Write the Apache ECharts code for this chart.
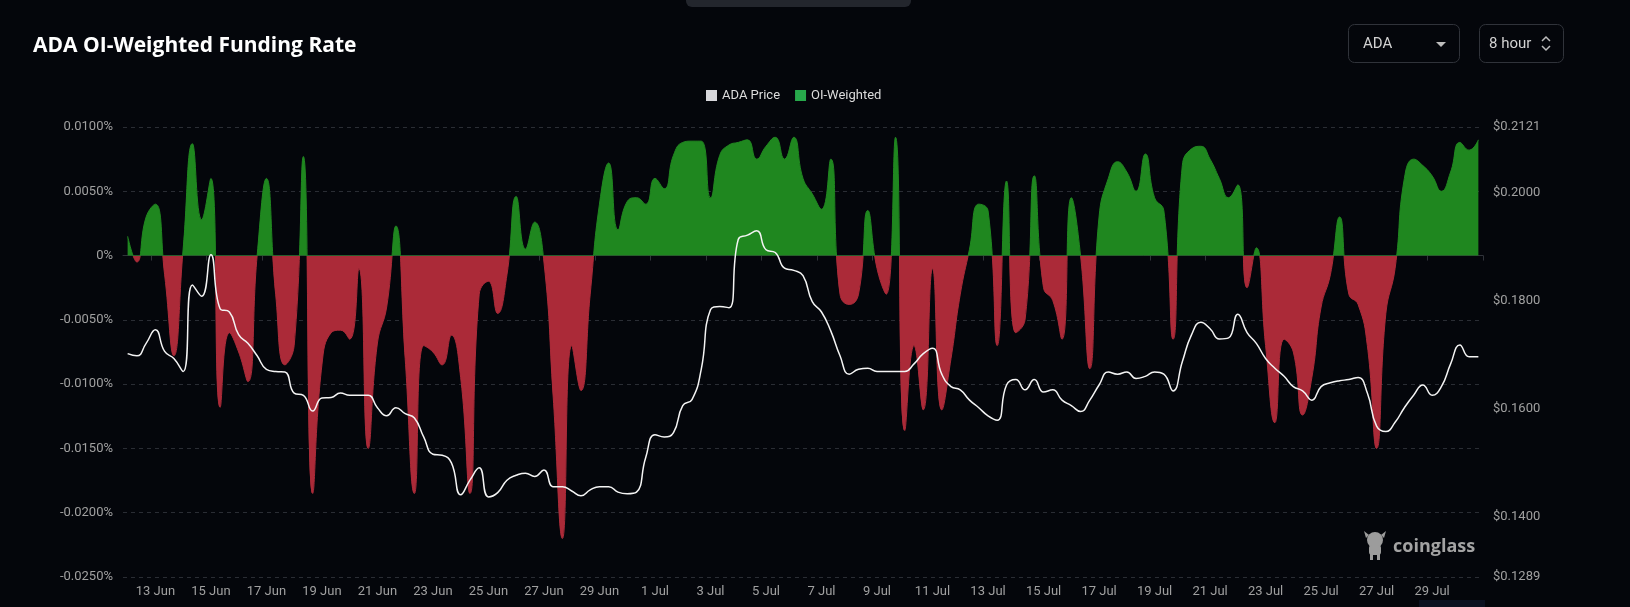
<!DOCTYPE html>
<html><head><meta charset="utf-8">
<script src="https://cdn.jsdelivr.net/npm/echarts@6/dist/echarts.min.js"></script>
<style>html,body{margin:0;padding:0;background:#04060b;}#c{width:1630px;height:607px;}</style>
</head><body><div id="c"></div>
<script>
const days = ['12 Jun','13 Jun','14 Jun','15 Jun','16 Jun','17 Jun','18 Jun','19 Jun','20 Jun','21 Jun','22 Jun','23 Jun','24 Jun','25 Jun','26 Jun','27 Jun','28 Jun','29 Jun','30 Jun',
  '1 Jul','2 Jul','3 Jul','4 Jul','5 Jul','6 Jul','7 Jul','8 Jul','9 Jul','10 Jul','11 Jul','12 Jul','13 Jul','14 Jul','15 Jul','16 Jul','17 Jul','18 Jul','19 Jul','20 Jul',
  '21 Jul','22 Jul','23 Jul','24 Jul','25 Jul','26 Jul','27 Jul','28 Jul','29 Jul','30 Jul'];
const hours = ['00:00','08:00','16:00'];
const categories = days.flatMap(d => hours.map(h => d + ' ' + h));

// OI-weighted funding rate, in percent
const fundingRate = [
 0.0015,-0.0005,0.0030,0.0040,-0.0015,-0.0078,0.0005,0.0087,0.0028,0.0060,
 -0.0118,-0.0060,-0.0075,-0.0098,0.0000,0.0060,-0.0030,-0.0085,-0.0070,0.0077,
 -0.0185,-0.0085,-0.0060,-0.0058,-0.0065,-0.0010,-0.0150,-0.0068,-0.0040,0.0023,
 -0.0080,-0.0185,-0.0070,-0.0075,-0.0085,-0.0062,-0.0095,-0.0185,-0.0030,-0.0020,
 -0.0045,-0.0015,0.0046,0.0005,0.0026,-0.0005,-0.0110,-0.0220,-0.0070,-0.0105,
 -0.0030,0.0040,0.0072,0.0020,0.0042,0.0045,0.0040,0.0060,0.0052,0.0078,
 0.0088,0.0089,0.0089,0.0045,0.0078,0.0086,0.0088,0.0090,0.0075,0.0085,
 0.0092,0.0075,0.0092,0.0060,0.0048,0.0036,0.0075,-0.0030,-0.0038,-0.0030,
 0.0035,-0.0010,-0.0030,0.0092,-0.0136,-0.0070,-0.0120,-0.0010,-0.0120,-0.0080,
 -0.0030,0.0005,0.0040,0.0035,-0.0070,0.0058,-0.0060,-0.0050,0.0062,-0.0025,
 -0.0035,-0.0065,0.0045,0.0000,-0.0088,0.0030,0.0060,0.0073,0.0065,0.0050,
 0.0079,0.0045,0.0035,-0.0065,0.0070,0.0083,0.0085,0.0075,0.0060,0.0045,
 0.0055,-0.0025,0.0006,-0.0070,-0.0130,-0.0065,-0.0075,-0.0124,-0.0095,-0.0040,
 -0.0015,0.0030,-0.0030,-0.0038,-0.0070,-0.0150,-0.0045,-0.0010,0.0060,0.0075,
 0.0070,0.0062,0.0050,0.0065,0.0088,0.0082,0.0090
];

// ADA price, USD
const adaPrice = [
 0.1702,0.1698,0.1721,0.1746,0.1706,0.1693,0.1669,0.1829,0.1808,0.1885,
 0.1785,0.1779,0.1737,0.1721,0.1698,0.1673,0.1669,0.1668,0.1629,0.1625,
 0.1596,0.1620,0.1621,0.1629,0.1625,0.1625,0.1625,0.1602,0.1587,0.1602,
 0.1591,0.1583,0.1548,0.1516,0.1514,0.1500,0.1441,0.1468,0.1491,0.1437,
 0.1445,0.1468,0.1477,0.1481,0.1475,0.1487,0.1456,0.1456,0.1448,0.1439,
 0.1450,0.1456,0.1456,0.1446,0.1443,0.1446,0.1510,0.1552,0.1548,0.1556,
 0.1606,0.1617,0.1673,0.1783,0.1789,0.1787,0.1913,0.1921,0.1929,0.1894,
 0.1889,0.1860,0.1856,0.1846,0.1798,0.1779,0.1744,0.1698,0.1664,0.1673,
 0.1675,0.1669,0.1669,0.1669,0.1669,0.1683,0.1702,0.1712,0.1664,0.1641,
 0.1635,0.1616,0.1602,0.1587,0.1579,0.1644,0.1654,0.1635,0.1654,0.1631,
 0.1635,0.1616,0.1606,0.1595,0.1616,0.1644,0.1668,0.1664,0.1668,0.1656,
 0.1660,0.1668,0.1664,0.1633,0.1687,0.1737,0.1760,0.1748,0.1729,0.1731,
 0.1775,0.1741,0.1721,0.1693,0.1675,0.1660,0.1641,0.1633,0.1616,0.1641,
 0.1648,0.1652,0.1654,0.1658,0.1629,0.1568,0.1558,0.1575,0.1602,0.1625,
 0.1644,0.1625,0.1641,0.1683,0.1718,0.1696,0.1696
];

const fundingAxis = {min: -0.025, max: 0.01, interval: 0.005};
const priceTicks = [0.1289, 0.14, 0.16, 0.18, 0.20, 0.2121];
const legendNames = ['ADA Price', 'OI-Weighted'];

const GREEN = '#1f871f', RED = '#ab2a38';
const labelEvery2Days = (idx) => idx % 6 === 3;

const GRID = {left: 123, right: 147, top: 127, bottom: 30};
const gridTop = GRID.top, gridBottom = 607 - GRID.bottom;
const zeroOffset = (fundingAxis.max - 0) / (fundingAxis.max - fundingAxis.min);
const signGradient = () => new echarts.graphic.LinearGradient(0, gridTop, 0, gridBottom, [
  {offset: 0, color: GREEN}, {offset: zeroOffset, color: GREEN},
  {offset: zeroOffset, color: RED}, {offset: 1, color: RED}
], true);

const chart = echarts.init(document.getElementById('c'), null, {renderer: 'canvas'});
chart.setOption({
  backgroundColor: '#04060b',
  animation: false,
  textStyle: {fontFamily: 'Roboto'},
  legend: {
    data: [legendNames[0], legendNames[1]],
    left: 701, top: 84, itemWidth: 11, itemHeight: 11, itemGap: 15, icon: 'rect',
    textStyle: {color: '#dcdcdc', fontSize: 13, fontFamily: 'Roboto'}
  },
  grid: Object.assign({containLabel: false}, GRID),
  xAxis: [
    {type: 'category', data: categories, boundaryGap: true,
     axisLine: {onZero: true, lineStyle: {color: '#30333a'}},
     axisTick: {show: true, interval: labelEvery2Days, length: 5, lineStyle: {color: '#30333a'}},
     axisLabel: {show: false}, splitLine: {show: false}},
    {type: 'category', data: categories, boundaryGap: true, position: 'bottom',
     axisLine: {show: false, onZero: false}, axisTick: {show: false},
     axisLabel: {interval: labelEvery2Days, color: '#a0a0a0', fontSize: 13, margin: 8,
       formatter: v => v.split(' ').slice(0, 2).join(' ')}}
  ],
  yAxis: [
    {type: 'value', min: fundingAxis.min, max: fundingAxis.max, interval: fundingAxis.interval,
     axisLine: {show: false}, axisTick: {show: false},
     axisLabel: {color: '#a0a0a0', fontSize: 13, margin: 10,
       formatter: v => Math.abs(v) < 1e-12 ? '0%' : v.toFixed(4) + '%'},
     splitLine: {lineStyle: {color: '#2a2d34', type: [4, 4], width: 1}}},
    {type: 'value', min: priceTicks[0], max: priceTicks[priceTicks.length - 1], position: 'right',
     axisLine: {show: false}, axisTick: {show: false}, splitLine: {show: false},
     axisLabel: {color: '#a0a0a0', fontSize: 13, margin: 10, customValues: priceTicks,
       formatter: v => '$' + v.toFixed(4)}}
  ],
  series: [
    {name: legendNames[1], type: 'line', data: fundingRate, yAxisIndex: 0, xAxisIndex: 0,
     smooth: true, symbol: 'none', itemStyle: {color: '#27a84b'},
     lineStyle: {width: 1, color: signGradient()}, areaStyle: {opacity: 1, color: signGradient()}, z: 2},
    {name: legendNames[0], type: 'line', data: adaPrice, yAxisIndex: 1, xAxisIndex: 0,
     smooth: true, symbol: 'none', itemStyle: {color: '#d8d8dc'},
     lineStyle: {width: 1.5, color: '#f4f4f4'}, z: 3}
  ],
  graphic: [
    {type: 'rect', shape: {x: 686, y: -8, width: 225, height: 15, r: 6}, style: {fill: '#23262d'}},
    {type: 'text', x: 33, y: 46, style: {text: 'ADA OI-Weighted Funding Rate', fill: '#ffffff',
      font: 'bold 21px "Open Sans"', verticalAlign: 'middle'}},
    {type: 'rect', shape: {x: 1348.5, y: 24.5, width: 111, height: 38, r: 6}, style: {fill: 'none', stroke: '#30333a', lineWidth: 1}},
    {type: 'text', x: 1363, y: 44, style: {text: 'ADA', fill: '#d2d2d2', font: '15px Roboto', verticalAlign: 'middle'}},
    {type: 'polygon', shape: {points: [[1436, 42], [1446, 42], [1441, 47]]}, style: {fill: '#bdbdbd'}},
    {type: 'rect', shape: {x: 1479.5, y: 24.5, width: 84, height: 38, r: 6}, style: {fill: 'none', stroke: '#30333a', lineWidth: 1}},
    {type: 'text', x: 1489, y: 44, style: {text: '8 hour', fill: '#d2d2d2', font: '15px Roboto', verticalAlign: 'middle'}},
    {type: 'polyline', shape: {points: [[1542, 41], [1546, 37], [1550, 41]]}, style: {stroke: '#bdbdbd', lineWidth: 1.5, fill: 'none'}},
    {type: 'polyline', shape: {points: [[1542, 46], [1546, 50], [1550, 46]]}, style: {stroke: '#bdbdbd', lineWidth: 1.5, fill: 'none'}},
    {type: 'group', children: [
      {type: 'circle', shape: {cx: 1375, cy: 540, r: 8}, style: {fill: '#9c9c9c'}},
      {type: 'polygon', shape: {points: [[1364, 531], [1369, 535], [1366, 538]]}, style: {fill: '#9c9c9c'}},
      {type: 'polygon', shape: {points: [[1386, 531], [1381, 535], [1384, 538]]}, style: {fill: '#9c9c9c'}},
      {type: 'rect', shape: {x: 1369, y: 545, width: 12, height: 10, r: 3}, style: {fill: '#9c9c9c'}},
      {type: 'rect', shape: {x: 1370, y: 553, width: 3, height: 7}, style: {fill: '#9c9c9c'}},
      {type: 'rect', shape: {x: 1377, y: 553, width: 3, height: 7}, style: {fill: '#9c9c9c'}}
    ]},
    {type: 'text', x: 1393, y: 547, style: {text: 'coinglass', fill: '#a3a3a3', font: 'bold 18px "Open Sans"', verticalAlign: 'middle'}},
    {type: 'rect', shape: {x: 1419, y: 600, width: 66, height: 7}, style: {fill: '#0b1120'}}
  ]
});
</script>
</body></html>
